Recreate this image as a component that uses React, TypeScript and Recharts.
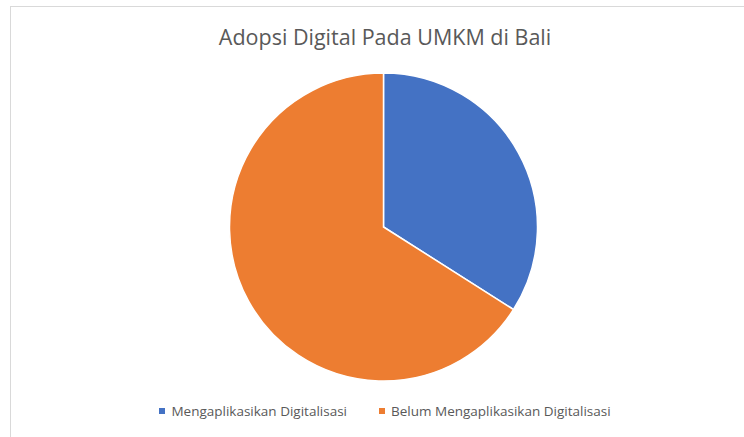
import { PieChart, Pie, Cell, Legend } from 'recharts'

const categories = ['Mengaplikasikan Digitalisasi', 'Belum Mengaplikasikan Digitalisasi']
const values = [34, 66]
const colors = ['#4472C4', '#ED7D31']

const data = categories.map((name, i) => ({ name, value: values[i] }))

const font = '"Open Sans", "Noto Sans", sans-serif'

function LegendContent() {
  return (
    <div
      style={{
        display: 'flex',
        justifyContent: 'center',
        gap: 32,
        fontFamily: font,
        fontSize: 13.5,
        color: '#595959',
      }}
    >
      {categories.map((c, i) => (
        <div key={c} style={{ display: 'flex', alignItems: 'center' }}>
          <span
            style={{
              display: 'inline-block',
              width: 6,
              height: 6,
              background: colors[i],
              marginRight: 6,
            }}
          />
          {c}
        </div>
      ))}
    </div>
  )
}

export default function App() {
  return (
    <div style={{ position: 'absolute', left: 0, top: 0, width: 744, height: 437, background: '#fff', overflow: 'hidden' }}>
      <div
        style={{
          position: 'absolute',
          left: 10,
          top: 6,
          width: 760,
          height: 460,
          border: '1px solid #d9d9d9',
          boxSizing: 'border-box',
        }}
      />
      <div
        style={{
          position: 'absolute',
          left: 0,
          top: 22,
          width: 770,
          textAlign: 'center',
          fontFamily: font,
          fontSize: 21.5,
          color: '#595959',
        }}
      >
        Adopsi Digital Pada UMKM di Bali
      </div>
      <div style={{ position: 'absolute', left: 0, top: 0 }}>
        <PieChart width={744} height={437}>
          <Pie
            data={data}
            dataKey="value"
            nameKey="name"
            cx={378.5}
            cy={222}
            outerRadius={154}
            startAngle={90}
            endAngle={-270}
            stroke="#fff"
            strokeWidth={1.5}
            isAnimationActive={false}
          >
            {data.map((d, i) => (
              <Cell key={d.name} fill={colors[i]} />
            ))}
          </Pie>
          <Legend
            content={<LegendContent />}
            verticalAlign="bottom"
            align="center"
            wrapperStyle={{ left: 0, width: 770, bottom: 17 }}
          />
        </PieChart>
      </div>
    </div>
  )
}
